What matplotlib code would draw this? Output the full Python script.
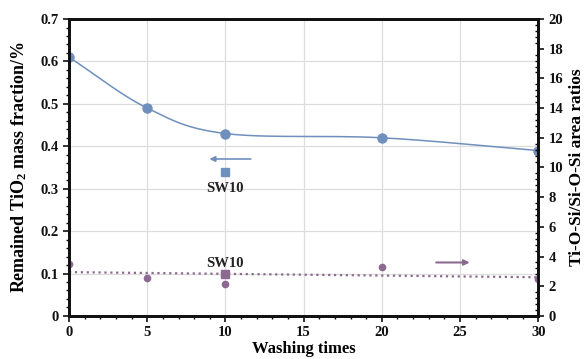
import matplotlib.pyplot as plt
import numpy as np
from matplotlib.ticker import MultipleLocator

# data
wash = [0, 5, 10, 20, 30]
tio2 = [0.61, 0.49, 0.43, 0.42, 0.39]          # left axis
ratio = [3.5, 2.55, 2.15, 3.3, 2.5]             # right axis
sw10_x = 10
sw10_tio2 = 0.34
sw10_ratio = 2.8

blue = '#6f8fbd'
purple = '#8c6a90'

plt.rcParams['font.family'] = ['Liberation Serif', 'DejaVu Serif']
plt.rcParams['font.weight'] = 'bold'
plt.rcParams['mathtext.fontset'] = 'custom'
plt.rcParams['mathtext.rm'] = 'Liberation Serif:bold'
plt.rcParams['mathtext.it'] = 'Liberation Serif:bold'


def smooth(x, y, n=40):
    # catmull-rom style smoothing like the spreadsheet "smoothed line"
    x = np.asarray(x, float)
    y = np.asarray(y, float)
    px = np.concatenate([[2 * x[0] - x[1]], x, [2 * x[-1] - x[-2]]])
    py = np.concatenate([[2 * y[0] - y[1]], y, [2 * y[-1] - y[-2]]])
    xs, ys = [], []
    t = np.linspace(0, 1, n)
    for i in range(1, len(px) - 2):
        for p, out in ((px, xs), (py, ys)):
            p0, p1, p2, p3 = p[i - 1], p[i], p[i + 1], p[i + 2]
            out.extend(0.5 * (2 * p1 + (-p0 + p2) * t
                              + (2 * p0 - 5 * p1 + 4 * p2 - p3) * t ** 2
                              + (-p0 + 3 * p1 - 3 * p2 + p3) * t ** 3))
    return np.array(xs), np.array(ys)


fig, ax = plt.subplots(figsize=(5.85, 3.59), dpi=100)
fig.subplots_adjust(left=0.118, right=0.92, bottom=0.12, top=0.947)
ax2 = ax.twinx()

# grid
ax.set_axisbelow(True)
ax.grid(True, color='#dddddd', linewidth=0.9)

# left series
sx, sy = smooth(wash, tio2)
ax.plot(sx, sy, color=blue, lw=1.1)
ax.plot(wash, tio2, 'o', color=blue, ms=6.5)
ax.plot([sw10_x], [sw10_tio2], 's', color=blue, ms=6)
ax.text(sw10_x, 0.315, 'SW10', ha='center', va='top', fontsize=10.5,
        fontweight='bold', color='#222222')
ax.annotate('', xy=(8.8, 0.37), xytext=(11.8, 0.37),
            arrowprops=dict(arrowstyle='-|>', color=blue, lw=1.2,
                            mutation_scale=8))

# right series
ax2.plot(wash, ratio, 'o', color=purple, ms=4.5)
k, b = np.polyfit(wash, ratio, 1)
tx = np.array([0, 30])
ax2.plot(tx, k * tx + b, ':', color=purple, lw=1.6)
ax2.plot([sw10_x], [sw10_ratio], 's', color=purple, ms=6)
ax2.text(sw10_x, 3.1, 'SW10', ha='center', va='bottom', fontsize=10.5,
         fontweight='bold', color='#222222')
ax2.annotate('', xy=(25.8, 3.6), xytext=(23.3, 3.6),
             arrowprops=dict(arrowstyle='-|>', color=purple, lw=1.5,
                             mutation_scale=8))

# axes
ax.set_xlim(0, 30)
ax.set_ylim(0, 0.7)
ax2.set_ylim(0, 20)
ax.xaxis.set_major_locator(MultipleLocator(5))
ax.xaxis.set_minor_locator(MultipleLocator(1))
ax.yaxis.set_major_locator(MultipleLocator(0.1))
ax.yaxis.set_minor_locator(MultipleLocator(0.02))
ax2.yaxis.set_major_locator(MultipleLocator(2))
ax2.yaxis.set_minor_locator(MultipleLocator(0.4))
ax.yaxis.set_major_formatter(lambda v, p: '0' if abs(v) < 1e-9 else f'{v:.1f}')

for a in (ax, ax2):
    for s in a.spines.values():
        s.set_linewidth(2)
        s.set_color('#111111')

ax.tick_params(axis='both', which='major', direction='out', length=4, width=1.2,
               labelsize=10.5, colors='#111111')
ax.tick_params(axis='both', which='minor', direction='out', length=2.5, width=1)
ax2.tick_params(axis='y', which='major', direction='out', length=4, width=1.2,
                labelsize=10.5, colors='#111111')
ax2.tick_params(axis='y', which='minor', direction='in', length=2.5, width=1)
for lab in ax.get_xticklabels() + ax.get_yticklabels() + ax2.get_yticklabels():
    lab.set_fontweight('bold')

ax.set_ylabel('Remained TiO$_2$ mass fraction/%', fontsize=13, fontweight='bold',
              labelpad=8)
ax2.set_ylabel('Ti-O-Si/Si-O-Si area ratios', fontsize=12.5, fontweight='bold',
               labelpad=4)
ax.set_xlabel('Washing times', fontsize=12, fontweight='bold', labelpad=1)

fig.savefig('out.png', dpi=100)
